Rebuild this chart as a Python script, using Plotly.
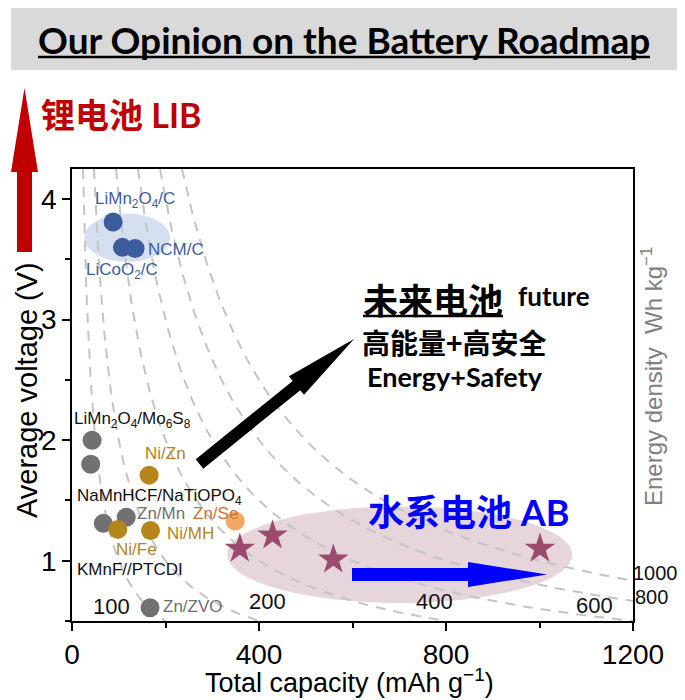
import numpy as np
import plotly.graph_objects as go

# ---------------- data ----------------
lib_names = ["LiMn2O4/C", "LiCoO2/C", "NCM/C"]
lib_cap = [88, 108, 135]
lib_volt = [3.81, 3.60, 3.59]

grey_names = ["LiMn2O4/Mo6S8", "LiMn2O4/Mo6S8", "KMnF//PTCDI", "Zn/Mn", "Zn/ZVO"]
grey_cap = [43, 40, 67, 116, 167]
grey_volt = [2.00, 1.80, 1.31, 1.36, 0.61]

gold_names = ["Ni/Zn", "Ni/Fe", "Ni/MH"]
gold_cap = [165, 98, 168]
gold_volt = [1.71, 1.26, 1.25]

orange_names = ["Zn/Se"]
orange_cap = [349]
orange_volt = [1.33]

aq_cap = [359, 429, 559, 1001]
aq_volt = [1.10, 1.21, 1.01, 1.10]

energy_levels = [100, 200, 400, 600, 800, 1000]

x_ticks = [0, 400, 800, 1200]
y_ticks = [1, 2, 3, 4]

# text labels (text, x, y, colour)
label_text = ["LiMn<sub>2</sub>O<sub>4</sub>/C", "NCM/C", "LiCoO<sub>2</sub>/C",
              "LiMn<sub>2</sub>O<sub>4</sub>/Mo<sub>6</sub>S<sub>8</sub>", "Ni/Zn",
              "NaMnHCF/NaTiOPO<sub>4</sub>", "Zn/Mn", "Zn/Se", "Ni/MH", "Ni/Fe",
              "KMnF//PTCDI", "100", "Zn/ZVO", "200", "400", "600", "1000", "800"]
label_x = [135, 222, 106, 129, 201, 187, 190, 306, 253, 139, 124, 84, 259, 418, 775, 1118, 1248, 1240]
label_y = [3.99, 3.58, 3.40, 2.17, 1.89, 1.53, 1.39, 1.39, 1.23, 1.09, 0.93, 0.62, 0.62, 0.66, 0.66, 0.63, 0.90, 0.70]
BLUE_T, GREY_T, GOLD_T, ORANGE_T, BLACK_T = "#3e5d9c", "#6e6e6e", "#b08522", "#c8743a", "#111111"
label_color = [BLUE_T, BLUE_T, BLUE_T, BLACK_T, GOLD_T, BLACK_T, GREY_T, ORANGE_T, GOLD_T, GOLD_T,
               BLACK_T, BLACK_T, GREY_T, BLACK_T, BLACK_T, BLACK_T, BLACK_T, BLACK_T]
label_size = [17]*11 + [22, 17, 22, 22, 22, 20, 20]

# ---------------- layout helpers ----------------
OFF = 8                      # page body margin
W, H = 685 - OFF, 700 - OFF
L, T = 72 - OFF, 169 - OFF
R = W - (633 - OFF)
B = H - (621 - OFF)
PW, PH = 633 - 72, 621 - 169
XR = [0, 1200]
YR = [0.5, 4.25]


def P(px, py):
    """screen pixel -> paper coordinates"""
    return (px - 72) / PW, (621 - py) / PH


def D2P(x, y):
    """data -> paper coordinates"""
    return (x - XR[0]) / (XR[1] - XR[0]), (y - YR[0]) / (YR[1] - YR[0])


def path_px(pts):
    s = ""
    for i, (px, py) in enumerate(pts):
        x, y = P(px, py)
        s += ("M" if i == 0 else "L") + f"{x:.5f},{y:.5f} "
    return s + "Z"


def arrow_pts(x0, y0, x1, y1, shaft_hw, head_len, head_hw):
    d = np.array([x1 - x0, y1 - y0], float)
    ln = np.hypot(*d)
    u = d / ln
    n = np.array([-u[1], u[0]])
    a = np.array([x0, y0], float)
    tip = np.array([x1, y1], float)
    base = tip - u * head_len
    pts = [a + n * shaft_hw, base + n * shaft_hw, base + n * head_hw, tip,
           base - n * head_hw, base - n * shaft_hw, a - n * shaft_hw]
    return [tuple(p) for p in pts]


ARIAL = "Liberation Sans, Arial"
LATO = "Lato, Open Sans, Noto Sans CJK SC"
CJK = "Noto Sans CJK SC"

fig = go.Figure()

# energy density iso-lines
for E in energy_levels:
    xs = np.linspace(E / YR[1], min(XR[1], E / YR[0]), 200)
    fig.add_trace(go.Scatter(x=xs, y=E / xs, mode="lines",
                             line=dict(color="#c4c4c4", width=2, dash="10px,8px"),
                             hoverinfo="skip", showlegend=False))

fig.add_trace(go.Scatter(x=lib_cap, y=lib_volt, mode="markers", text=lib_names,
                         marker=dict(size=19, color="#3d5c9e"), showlegend=False))
fig.add_trace(go.Scatter(x=grey_cap, y=grey_volt, mode="markers", text=grey_names,
                         marker=dict(size=19, color="#717171"), showlegend=False))
fig.add_trace(go.Scatter(x=gold_cap, y=gold_volt, mode="markers", text=gold_names,
                         marker=dict(size=19, color="#b5851b"), showlegend=False))
fig.add_trace(go.Scatter(x=orange_cap, y=orange_volt, mode="markers", text=orange_names,
                         marker=dict(size=19, color="#f5a862"), showlegend=False))
fig.add_trace(go.Scatter(x=aq_cap, y=aq_volt, mode="markers",
                         marker=dict(size=23, symbol="star", color="#9c4a6e"), showlegend=False))

shapes = []
# title box
x0, y0 = P(11, 70)
x1, y1 = P(681, 8)
shapes.append(dict(type="rect", xref="paper", yref="paper", x0=x0, y0=y0, x1=x1, y1=y1,
                   fillcolor="#d9d9d9", line=dict(width=0), layer="below"))
# title underline
ux0, uy = P(38, 57)
ux1, _ = P(650, 57)
shapes.append(dict(type="line", xref="paper", yref="paper", x0=ux0, y0=uy, x1=ux1, y1=uy,
                   line=dict(color="black", width=2.5)))
# future underline
fx0, fy = P(363, 316)
fx1, _ = P(503, 316)
shapes.append(dict(type="line", xref="paper", yref="paper", x0=fx0, y0=fy, x1=fx1, y1=fy,
                   line=dict(color="black", width=2.5)))
# ellipses
shapes.append(dict(type="circle", xref="x", yref="y", x0=26, x1=210, y0=3.48, y1=3.88,
                   fillcolor="#d6dff0", line=dict(width=0), layer="below"))
shapes.append(dict(type="circle", xref="x", yref="y", x0=332, x1=1070, y0=0.65, y1=1.45,
                   fillcolor="#e6d6dc", line=dict(width=0), layer="below"))
# red arrow
shapes.append(dict(type="path", xref="paper", yref="paper",
                   path=path_px(arrow_pts(24.5, 252, 24.5, 88, 7.5, 84, 13.5)),
                   fillcolor="#c00000", line=dict(width=0)))
# black arrow
shapes.append(dict(type="path", xref="paper", yref="paper",
                   path=path_px(arrow_pts(199.5, 464, 354, 339, 6, 74, 12)),
                   fillcolor="black", line=dict(width=0)))
# blue arrow
shapes.append(dict(type="path", xref="paper", yref="paper",
                   path=path_px(arrow_pts(352, 574.5, 547, 574.5, 6.5, 79, 12.5)),
                   fillcolor="#0000ff", line=dict(width=0)))

ann = []
for t, x, y, c, s in zip(label_text, label_x, label_y, label_color, label_size):
    px_, py_ = D2P(x, y)   # paper refs so labels beyond the x range stay visible
    ann.append(dict(text=t, x=px_, y=py_, xref="paper", yref="paper", showarrow=False,
                    xanchor="center", yanchor="middle",
                    font=dict(family=ARIAL, size=s, color=c)))


def pann(text, px, py, size, color="black", family=LATO, xanchor="center", angle=0):
    x, y = P(px, py)
    ann.append(dict(text=text, x=x, y=y, xref="paper", yref="paper", showarrow=False,
                    xanchor=xanchor, yanchor="middle", textangle=angle,
                    font=dict(family=family, size=size, color=color)))


pann("<b>Our Opinion on the Battery Roadmap</b>", 344, 39, 37)
pann("<b>锂电池 LIB</b>", 39, 115, 34, color="#c00000", xanchor="left")
pann("<b>未来电池</b>", 361, 298, 35, family=CJK, xanchor="left")
pann("<b>future</b>", 516, 296, 26, xanchor="left")
pann("<b>高能量+高安全</b>", 360, 342, 28, family=CJK, xanchor="left")
pann("<b>Energy+Safety</b>", 365, 376, 27, xanchor="left")
pann("<b>水系电池 AB</b>", 366, 512, 36, color="#0000ff", xanchor="left")
pann("Total capacity (mAh g<sup>−1</sup>)", 349, 681, 27, family=ARIAL)
pann("Average voltage (V)", 27, 390, 29, family=ARIAL, angle=-90)
pann("Energy density  Wh kg<sup>−1</sup>", 652, 377, 24, color="#808080", family=ARIAL, angle=-90)

fig.update_layout(
    width=W, height=H, autosize=False,
    margin=dict(l=L, r=R, t=T, b=B, pad=0),
    plot_bgcolor="white", paper_bgcolor="white",
    shapes=shapes, annotations=ann, showlegend=False,
    xaxis=dict(range=XR, tickvals=x_ticks, ticks="outside", ticklen=8, tickwidth=1.5,
               tickcolor="black", showline=True, linecolor="black", linewidth=1.5, mirror=True,
               showgrid=False, zeroline=False,
               tickfont=dict(family=ARIAL, size=28, color="black"),
               minor=dict(tickvals=[200, 600, 1000], ticks="outside", ticklen=5, tickwidth=1.5,
                          tickcolor="black", showgrid=False)),
    yaxis=dict(range=YR, tickvals=y_ticks, ticks="outside", ticklen=8, tickwidth=1.5,
               tickcolor="black", showline=True, linecolor="black", linewidth=1.5, mirror=True,
               showgrid=False, zeroline=False,
               tickfont=dict(family=ARIAL, size=28, color="black"),
               minor=dict(tickvals=[0.5, 1.5, 2.5, 3.5], ticks="outside", ticklen=5, tickwidth=1.5,
                          tickcolor="black", showgrid=False)),
)

fig.write_html("out.html")
